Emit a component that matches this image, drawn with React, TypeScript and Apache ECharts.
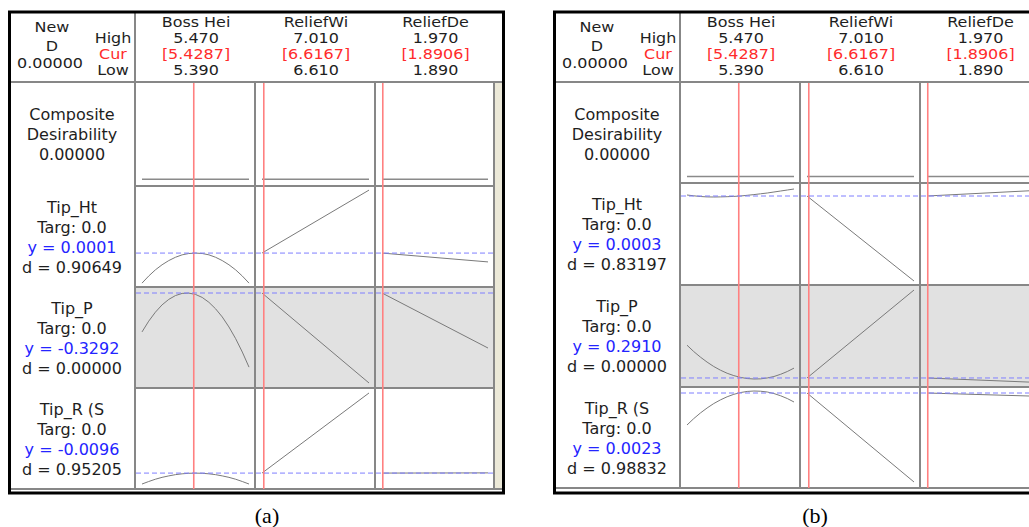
import React, { useEffect, useRef } from "react";
import * as echarts from "echarts";

// ---------- data ----------
const factorNames = ["Boss Hei", "ReliefWi", "ReliefDe"];
const factorHigh = [5.47, 7.01, 1.97];
const factorLow = [5.39, 6.61, 1.89];
const factorCur = [5.4287, 6.6167, 1.8906];
const responseNames = ["Tip_Ht", "Tip_P", "Tip_R (S"];
const targets = [0.0, 0.0, 0.0];
const compositeD = [0.0, 0.0];
const compositeCurve = [0, 0]; // composite desirability at low / high of each factor

const bossX = [5.39, 5.395, 5.4, 5.405, 5.41, 5.415, 5.42, 5.425, 5.43, 5.435, 5.44, 5.445, 5.45, 5.455, 5.46, 5.465, 5.47];

// panel (a)
const aY = [0.0001, -0.3292, -0.0096];
const aD = [0.90649, 0.0, 0.95205];
const aYMin = [-0.0013, -1.22, -0.022];
const aYMax = [0.003, -0.3, 0.0692];
const aTipHtBoss = [-0.00126, -0.00094, -0.00066, -0.00043, -0.00024, -0.00009, 0.00002, 0.00008, 0.0001, 0.00008, 0.00002, -0.00009, -0.00024, -0.00043, -0.00066, -0.00094, -0.00126];
const aTipHtWi = [0.0001, 0.00295];
const aTipHtDe = [0.0001, -0.0003];
const aTipPBoss = [-0.706, -0.602, -0.515, -0.444, -0.391, -0.354, -0.333, -0.33, -0.343, -0.372, -0.419, -0.482, -0.561, -0.658, -0.771, -0.901, -1.047];
const aTipPWi = [-0.3292, -1.2006];
const aTipPDe = [-0.3292, -0.862];
const aTipRBoss = [-0.0201, -0.0177, -0.0155, -0.0137, -0.0123, -0.0111, -0.0103, -0.0098, -0.00965, -0.0098, -0.0103, -0.0111, -0.0123, -0.0137, -0.0155, -0.0177, -0.0201];
const aTipRWi = [-0.0096, 0.0673];
const aTipRDe = [-0.0096, -0.0094];

// panel (b)
const bY = [0.0003, 0.291, 0.0023];
const bD = [0.83197, 0.0, 0.98832];
const bYMin = [-0.004, 0.25, -0.0805];
const bYMax = [0.0008, 0.9028, 0.005];
const bTipHtBoss = [0.00035, 0.00031, 0.000275, 0.000255, 0.00025, 0.000255, 0.000265, 0.00028, 0.0003, 0.000335, 0.00037, 0.00041, 0.00045, 0.0005, 0.00055, 0.0006, 0.00065];
const bTipHtWi = [0.0003, -0.00395];
const bTipHtDe = [0.0003, 0.00056];
const bTipPBoss = [0.514, 0.471, 0.433, 0.399, 0.369, 0.344, 0.323, 0.307, 0.295, 0.287, 0.284, 0.285, 0.291, 0.301, 0.316, 0.335, 0.358];
const bTipPWi = [0.291, 0.889];
const bTipPDe = [0.291, 0.263];
const bTipRBoss = [-0.0265, -0.0208, -0.0157, -0.0112, -0.0072, -0.0039, -0.0011, 0.0011, 0.0027, 0.0037, 0.0041, 0.0039, 0.0032, 0.0018, -0.0002, -0.0027, -0.0058];
const bTipRWi = [0.0023, -0.0778];
const bTipRDe = [0.0023, -0.0004];

// ---------- layout ----------
const COL_X = [135, 255, 375, 494];
const FONT = '"DejaVu Sans", Verdana, sans-serif';
const DARK = "#1e1e1e";
const RED = "#ff2b2b";
const BLUE = "#2424ff";

const panels = [
  {
    dx: 0,
    rows: [83, 186, 287, 388, 489],
    yCur: aY, d: aD, yMin: aYMin, yMax: aYMax, comp: compositeD[0],
    curves: [[aTipHtBoss, aTipHtWi, aTipHtDe], [aTipPBoss, aTipPWi, aTipPDe], [aTipRBoss, aTipRWi, aTipRDe]],
    caption: "(a)", captionX: 267,
  },
  {
    dx: 545,
    rows: [83, 183, 285, 387, 488],
    yCur: bY, d: bD, yMin: bYMin, yMax: bYMax, comp: compositeD[1],
    curves: [[bTipHtBoss, bTipHtWi, bTipHtDe], [bTipPBoss, bTipPWi, bTipPDe], [bTipRBoss, bTipRWi, bTipRDe]],
    caption: "(b)", captionX: 815,
  },
];

function txt(x: number, y: number, text: string, fill = DARK, size = 16, family = FONT, scaleX = 1) {
  return {
    type: "text",
    x, y, scaleX, silent: true,
    style: {
      text, fill,
      font: `${size}px ${family}`,
      fontSize: size, fontFamily: family,
      textAlign: "center", textVerticalAlign: "middle",
      align: "center", verticalAlign: "middle",
    },
  };
}
const htxt = (x: number, y: number, text: string, fill = DARK) => txt(x, y, text, fill, 14, FONT, 1.14);

function ln(x1: number, y1: number, x2: number, y2: number, stroke = "#878787", lineWidth = 2) {
  return { type: "line", silent: true, shape: { x1, y1, x2, y2 }, style: { stroke, lineWidth } };
}

function buildOption() {
  const grid: any[] = [];
  const xAxis: any[] = [];
  const yAxis: any[] = [];
  const series: any[] = [];
  const graphic: any[] = [];

  const addGrid = (left: number, top: number, width: number, height: number, xmin: number, xmax: number, ymin: number, ymax: number) => {
    grid.push({ left, top, width, height, show: false, containLabel: false });
    const i = grid.length - 1;
    xAxis.push({ type: "value", gridIndex: i, min: xmin, max: xmax, show: false, splitLine: { show: false } });
    yAxis.push({ type: "value", gridIndex: i, min: ymin, max: ymax, show: false, splitLine: { show: false } });
    return i;
  };
  const addLine = (i: number, data: number[][], opts: any) => {
    series.push({
      type: "line", xAxisIndex: i, yAxisIndex: i, data, symbol: "none", silent: true,
      smooth: opts.smooth || false, z: opts.z || 3,
      lineStyle: { color: opts.color, width: opts.width, type: opts.type || "solid" },
    });
  };

  panels.forEach((p) => {
    const { dx, rows } = p;
    // backgrounds
    graphic.push({ type: "rect", silent: true, shape: { x: dx + 135, y: rows[2], width: 359, height: rows[3] - rows[2] }, style: { fill: "#e1e1e1" } });
    graphic.push({ type: "rect", silent: true, shape: { x: dx + 495, y: 83, width: 7, height: rows[4] - 83 }, style: { fill: "#ece9d8" } });
    // frame lines
    graphic.push(ln(dx + 9, 82, dx + 502, 82));
    graphic.push(ln(dx + 135, 12, dx + 135, rows[4]));
    for (let c = 1; c < COL_X.length; c++) graphic.push(ln(dx + COL_X[c], 82, dx + COL_X[c], rows[4]));
    for (let r = 1; r < 4; r++) graphic.push(ln(dx + 135, rows[r], dx + 494, rows[r]));
    graphic.push(ln(dx + 9, rows[4], dx + 502, rows[4]));
    graphic.push({ type: "rect", silent: true, shape: { x: dx + 9.5, y: 12, width: 494, height: 481 }, style: { fill: "none", stroke: "#000", lineWidth: 3 } });

    // header texts
    graphic.push(htxt(dx + 52, 27, "New"));
    graphic.push(htxt(dx + 52, 46, "D"));
    graphic.push(htxt(dx + 50, 63, p.comp.toFixed(5)));
    graphic.push(htxt(dx + 113, 38, "High"));
    graphic.push(htxt(dx + 113, 54, "Cur", RED));
    graphic.push(htxt(dx + 113, 70, "Low"));
    for (let c = 0; c < 3; c++) {
      const cx = dx + (COL_X[c] + COL_X[c + 1]) / 2 + 1;
      graphic.push(htxt(cx, 22, factorNames[c]));
      graphic.push(htxt(cx, 38, factorHigh[c].toFixed(3)));
      graphic.push(htxt(cx, 54, `[${factorCur[c].toFixed(4)}]`, RED));
      graphic.push(htxt(cx, 70, factorLow[c].toFixed(3)));
    }
    // row labels
    const lx = dx + 72;
    graphic.push(txt(lx, rows[0] + 31, "Composite"));
    graphic.push(txt(lx, rows[0] + 51, "Desirability"));
    graphic.push(txt(lx, rows[0] + 71, p.comp.toFixed(5)));
    for (let r = 0; r < 3; r++) {
      const t = rows[r + 1] + 21;
      graphic.push(txt(lx, t, responseNames[r]));
      graphic.push(txt(lx, t + 20, `Targ: ${targets[r].toFixed(1)}`));
      graphic.push(txt(lx, t + 40, `y = ${p.yCur[r].toFixed(4)}`, BLUE));
      graphic.push(txt(lx, t + 60, `d = ${p.d[r].toFixed(5)}`));
    }
    graphic.push(txt(p.captionX, 515, p.caption, "#000", 22, '"Liberation Serif", "Times New Roman", serif'));

    // plots
    for (let c = 0; c < 3; c++) {
      const left = dx + COL_X[c] + 7;
      const width = COL_X[c + 1] - COL_X[c] - 13;
      const lo = factorLow[c], hi = factorHigh[c];
      // composite desirability
      const gc = addGrid(left, rows[0] + 8, width, rows[1] - rows[0] - 12, lo, hi, -0.03, 1);
      addLine(gc, [[lo, compositeCurve[0]], [hi, compositeCurve[1]]], { color: "#8a8a8a", width: 1.5 });
      // responses
      for (let r = 0; r < 3; r++) {
        const top = rows[r + 1] + 3;
        const h = rows[r + 2] - rows[r + 1] - 6;
        const gi = addGrid(left, top, width, h, lo, hi, p.yMin[r], p.yMax[r]);
        const vals = p.curves[r][c];
        const data = c === 0 ? bossX.map((x, k) => [x, vals[k]]) : [[lo, vals[0]], [hi, vals[1]]];
        addLine(gi, data, { color: "#7a7a7a", width: 1 });
      }
      // current factor setting (red vertical)
      const gr = addGrid(left, rows[0], width, rows[4] - rows[0], lo, hi, 0, 1);
      addLine(gr, [[factorCur[c], 0], [factorCur[c], 1]], { color: "#ff8080", width: 1.6, z: 4 });
    }
    // current response (blue dashed)
    for (let r = 0; r < 3; r++) {
      const top = rows[r + 1] + 3;
      const h = rows[r + 2] - rows[r + 1] - 6;
      const gd = addGrid(dx + 136, top, 357, h, 0, 1, p.yMin[r], p.yMax[r]);
      addLine(gd, [[0, p.yCur[r]], [1, p.yCur[r]]], { color: "#7f7fff", width: 1, type: [5, 3], z: 5 });
    }
  });

  return {
    animation: false,
    backgroundColor: "#ffffff",
    grid, xAxis, yAxis, series, graphic,
  };
}

export default function App() {
  const ref = useRef<HTMLDivElement>(null);
  useEffect(() => {
    const chart = echarts.init(ref.current as HTMLDivElement, null, { renderer: "svg" });
    chart.setOption(buildOption() as any);
    return () => chart.dispose();
  }, []);
  return (
    <div
      ref={ref}
      style={{ position: "fixed", left: 0, top: 0, width: 1029, height: 527, background: "#fff" }}
    />
  );
}
